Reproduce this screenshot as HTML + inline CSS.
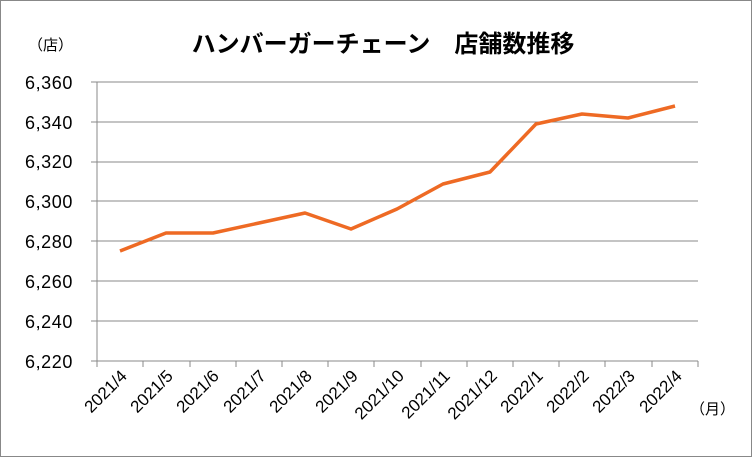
<!DOCTYPE html><html><head><meta charset="utf-8"><style>body{margin:0}svg{display:block}</style></head><body>
<svg width="752" height="457" xmlns="http://www.w3.org/2000/svg" font-family="Liberation Sans, Noto Sans CJK JP, sans-serif">
<rect x="0.5" y="0.5" width="751" height="456" fill="#fff" stroke="#888"/>
<text x="383" y="52" font-size="24" font-weight="bold" text-anchor="middle" font-family="Noto Sans CJK JP, sans-serif">ハンバーガーチェーン　店舗数推移</text>
<text x="28" y="50" font-size="15" font-family="Noto Sans CJK JP, sans-serif">（店）</text>
<text x="690" y="414" font-size="15" font-family="Noto Sans CJK JP, sans-serif">（月）</text>
<g stroke="#888" stroke-width="1">
<line x1="97" y1="82" x2="698" y2="82"/><line x1="97" y1="122" x2="698" y2="122"/><line x1="97" y1="162" x2="698" y2="162"/><line x1="97" y1="201" x2="698" y2="201"/><line x1="97" y1="241" x2="698" y2="241"/><line x1="97" y1="281" x2="698" y2="281"/><line x1="97" y1="321" x2="698" y2="321"/><line x1="97" y1="361" x2="698" y2="361"/>
<line x1="97" y1="82" x2="97" y2="361"/>
<line x1="91" y1="82" x2="97" y2="82"/><line x1="91" y1="122" x2="97" y2="122"/><line x1="91" y1="162" x2="97" y2="162"/><line x1="91" y1="201" x2="97" y2="201"/><line x1="91" y1="241" x2="97" y2="241"/><line x1="91" y1="281" x2="97" y2="281"/><line x1="91" y1="321" x2="97" y2="321"/><line x1="91" y1="361" x2="97" y2="361"/>
<line x1="97" y1="361" x2="97" y2="367"/><line x1="143" y1="361" x2="143" y2="367"/><line x1="190" y1="361" x2="190" y2="367"/><line x1="236" y1="361" x2="236" y2="367"/><line x1="282" y1="361" x2="282" y2="367"/><line x1="328" y1="361" x2="328" y2="367"/><line x1="374" y1="361" x2="374" y2="367"/><line x1="421" y1="361" x2="421" y2="367"/><line x1="467" y1="361" x2="467" y2="367"/><line x1="513" y1="361" x2="513" y2="367"/><line x1="559" y1="361" x2="559" y2="367"/><line x1="605" y1="361" x2="605" y2="367"/><line x1="652" y1="361" x2="652" y2="367"/><line x1="698" y1="361" x2="698" y2="367"/>
</g>
<g font-size="18" text-anchor="end" letter-spacing="0.6">
<text x="73" y="89">6,360</text><text x="73" y="129">6,340</text><text x="73" y="168">6,320</text><text x="73" y="208">6,300</text><text x="73" y="248">6,280</text><text x="73" y="288">6,260</text><text x="73" y="328">6,240</text><text x="73" y="368">6,220</text>
</g>
<g font-size="17" text-anchor="end">
<text transform="translate(128,377) rotate(-45)">2021/4</text>
<text transform="translate(174,377) rotate(-45)">2021/5</text>
<text transform="translate(220,377) rotate(-45)">2021/6</text>
<text transform="translate(267,377) rotate(-45)">2021/7</text>
<text transform="translate(313,377) rotate(-45)">2021/8</text>
<text transform="translate(359,377) rotate(-45)">2021/9</text>
<text transform="translate(405,377) rotate(-45)">2021/10</text>
<text transform="translate(451,377) rotate(-45)">2021/11</text>
<text transform="translate(498,377) rotate(-45)">2021/12</text>
<text transform="translate(544,377) rotate(-45)">2022/1</text>
<text transform="translate(590,377) rotate(-45)">2022/2</text>
<text transform="translate(636,377) rotate(-45)">2022/3</text>
<text transform="translate(683,377) rotate(-45)">2022/4</text>
</g>
<polyline fill="none" stroke="#EE6A24" stroke-width="3.5" stroke-linejoin="round" points="120,251 166,233 213,233 259,223 305,213 351,229 397,209 443,184 490,172 536,124 582,114 628,118 675,106"/>
</svg>
</body></html>
